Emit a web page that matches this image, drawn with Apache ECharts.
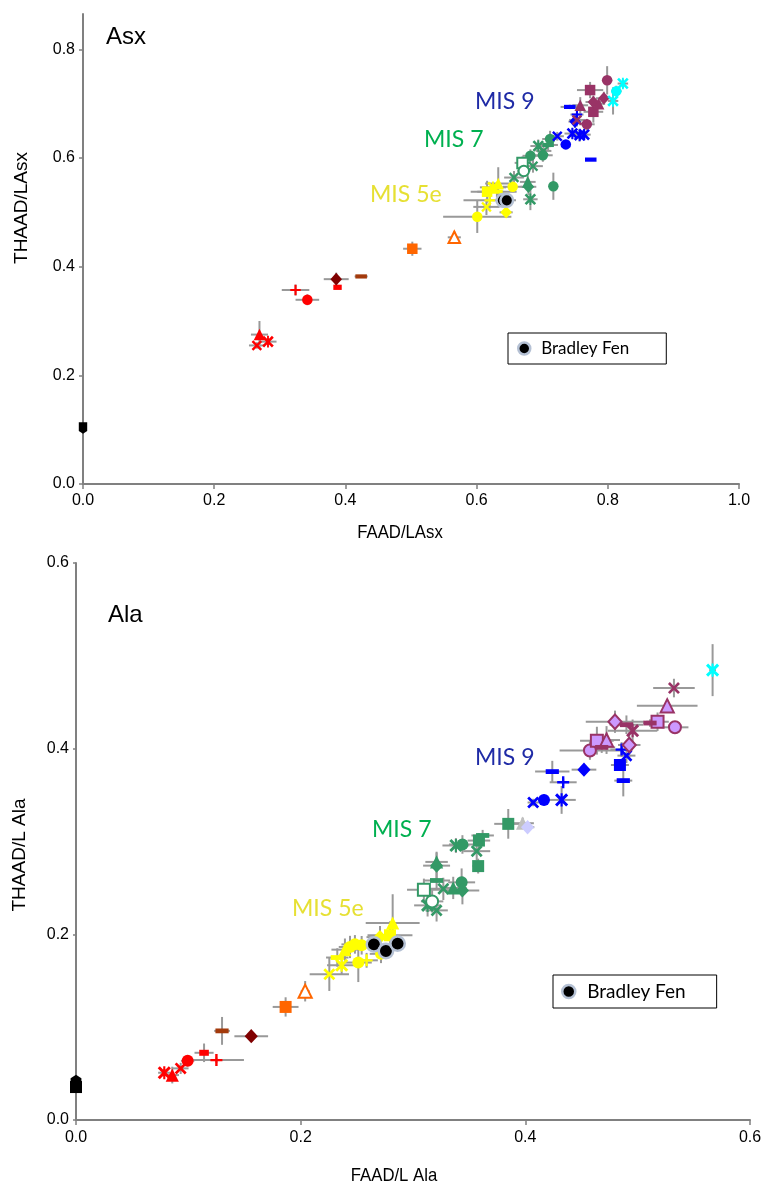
<!DOCTYPE html>
<html><head><meta charset="utf-8">
<script src="https://cdn.jsdelivr.net/npm/echarts@6/dist/echarts.min.js"></script>
<style>html,body{margin:0;padding:0;background:#fff}#c{width:766px;height:1186px}</style>
</head><body><div id="c"></div>
<script>
// ---------- DATA: [x, y, xErr, yErr] ----------
// Panel 1: Asx
const asxTicksX = [0, 0.2, 0.4, 0.6, 0.8, 1.0];
const asxTicksY = [0, 0.2, 0.4, 0.6, 0.8];
const asxBlack = [[0, 0.103, 0, 0]];
const asxBlackSym = ['pentDown'];
const asxRed = [[0.269,0.275,0.013,0.025],[0.265,0.255,0.012,0.006],[0.282,0.262,0.013,0.006],[0.324,0.357,0.021,0.010],[0.342,0.339,0.018,0.010],[0.388,0.362,0,0]];
const asxRedSym = ['triangle','x','star','plus','circle','smallRect'];
const asxDarkRed = [[0.386,0.377,0.019,0.012]];
const asxDarkRedSym = ['diamond'];
const asxBrown = [[0.424,0.382,0.010,0.002]];
const asxBrownSym = ['dash'];
const asxOrange = [[0.502,0.433,0.014,0.013]];
const asxOrangeSym = ['rect'];
const asxOrangeHollow = [[0.566,0.454,0.010,0.011]];
const asxOrangeHollowSym = ['triangle'];
const asxYellow = [[0.601,0.492,0.052,0.030],[0.615,0.510,0.020,0.015],[0.616,0.538,0.025,0.020],[0.633,0.553,0.020,0.030],[0.655,0.547,0.015,0.010],[0.645,0.500,0.010,0.010],[0.620,0.522,0.040,0.015],[0.631,0.538,0.030,0.010],[0.625,0.546,0.020,0.010]];
const asxYellowSym = ['circle','x','rect','triangle','circle','diamond','plus','dash','star'];
const asxBradley = [[0.640,0.522,0,0],[0.646,0.522,0,0]];
const asxBradleySym = ['bigCircle','bigCircle'];
const asxGreen = [[0.682,0.524,0.011,0.020],[0.679,0.547,0.012,0.015],[0.717,0.548,0.005,0.025],[0.678,0.556,0.012,0.012],[0.657,0.564,0.015,0.012],[0.686,0.585,0.015,0.012],[0.682,0.604,0.012,0.012],[0.701,0.605,0.015,0.012],[0.694,0.622,0.012,0.012],[0.712,0.635,0.012,0.015],[0.709,0.624,0.015,0.010],[0.702,0.613,0.012,0.010]];
const asxGreenSym = ['star','diamond','circle','triangle','x','x','circle','circle','star','circle','dash','x'];
const asxGreenHollow = [[0.670,0.591,0.012,0.012],[0.672,0.576,0.010,0.010]];
const asxGreenHollowSym = ['rect','circle'];
const asxBlue = [[0.723,0.640,0.010,0.008],[0.736,0.625,0.008,0.008],[0.746,0.645,0.012,0.010],[0.757,0.642,0.010,0.012],[0.764,0.643,0.010,0.010],[0.774,0.597,0.003,0.002],[0.742,0.694,0.014,0.004],[0.750,0.667,0.010,0.012],[0.753,0.680,0.010,0.012]];
const asxBlueSym = ['x','circle','star','star','star','dash','dash','diamond','plus'];
const asxMaroon = [[0.799,0.743,0.008,0.026],[0.773,0.725,0.020,0.015],[0.778,0.685,0.015,0.020],[0.778,0.703,0.012,0.012],[0.758,0.697,0.012,0.015],[0.794,0.710,0.012,0.012],[0.768,0.662,0.012,0.010],[0.753,0.670,0.012,0.012],[0.786,0.700,0.010,0.010]];
const asxMaroonSym = ['circle','rect','rect','diamond','triangle','diamond','circle','x','triangle'];
const asxCyan = [[0.823,0.737,0.008,0.008],[0.813,0.723,0.008,0.010],[0.808,0.705,0.008,0.025]];
const asxCyanSym = ['star','circle','star'];

// Panel 2: Ala
const alaTicks = [0, 0.2, 0.4, 0.6];
const alaBlack = [[0,0.0355,0,0],[0,0.0415,0,0]];
const alaBlackSym = ['rect','pentUp'];
const alaRed = [[0.0786,0.0509,0.0055,0.004],[0.0857,0.0484,0.006,0.009],[0.0932,0.0556,0.007,0.006],[0.0994,0.0638,0.006,0.006],[0.125,0.0645,0.0245,0.003],[0.114,0.0724,0.0085,0.010]];
const alaRedSym = ['star','triangle','x','circle','plus','smallRect'];
const alaDarkRed = [[0.156,0.0903,0.015,0.003]];
const alaDarkRedSym = ['diamond'];
const alaBrown = [[0.130,0.096,0.007,0.015]];
const alaBrownSym = ['dash'];
const alaOrange = [[0.1866,0.1218,0.0115,0.0104]];
const alaOrangeSym = ['rect'];
const alaOrangeHollow = [[0.204,0.1387,0.004,0.011]];
const alaOrangeHollowSym = ['triangle'];
const alaYellow = [[0.2255,0.157,0.0175,0.018],[0.2365,0.1667,0.013,0.010],[0.2513,0.1696,0.012,0.021],[0.2587,0.172,0.010,0.008],[0.2326,0.175,0.010,0.010],[0.2394,0.1835,0.012,0.012],[0.2439,0.1864,0.010,0.012],[0.2483,0.1892,0.012,0.010],[0.2543,0.1882,0.015,0.010],[0.2706,0.197,0.012,0.012],[0.2795,0.199,0.020,0.015],[0.2819,0.2122,0.024,0.031],[0.2715,0.179,0.010,0.010]];
const alaYellowSym = ['x','star','circle','plus','dash','triangle','circle','circle','circle','diamond','rect','triangle','circle'];
const alaBradley = [[0.2652,0.1892,0,0],[0.2759,0.182,0,0],[0.2863,0.190,0,0]];
const alaBradleySym = ['bigCircle','bigCircle','bigCircle'];
const alaGreen = [[0.321,0.2258,0.010,0.012],[0.313,0.2312,0.012,0.012],[0.321,0.258,0.012,0.010],[0.327,0.249,0.015,0.012],[0.3358,0.250,0.012,0.012],[0.3433,0.256,0.012,0.015],[0.344,0.2473,0.015,0.015],[0.321,0.274,0.012,0.015],[0.321,0.278,0.010,0.010],[0.3382,0.2957,0.012,0.008],[0.344,0.2968,0.012,0.010],[0.3567,0.2896,0.012,0.010],[0.358,0.2735,0.005,0.008],[0.362,0.3065,0.010,0.006],[0.3587,0.301,0.010,0.008],[0.3848,0.319,0.0125,0.016]];
const alaGreenSym = ['x','star','dash','x','triangle','circle','diamond','diamond','triangle','star','circle','x','rect','dash','rect','rect'];
const alaGreenHollow = [[0.317,0.2355,0.010,0.012],[0.3097,0.248,0.015,0.012]];
const alaGreenHollowSym = ['circle','rect'];
const alaGrey = [[0.3976,0.3197,0.010,0.006]];
const alaGreySym = ['triangle'];
const alaLavender = [[0.402,0.3154,0.006,0.004]];
const alaLavenderSym = ['diamond'];
const alaBlue = [[0.407,0.342,0.005,0.004],[0.4166,0.3448,0.005,0.006],[0.4323,0.3448,0.0126,0.015],[0.4337,0.3638,0.012,0.004],[0.424,0.3753,0.0153,0.0116],[0.4522,0.3774,0.011,0.004],[0.4842,0.3824,0.008,0.006],[0.4872,0.3656,0.008,0.017],[0.490,0.3925,0.008,0.008],[0.4857,0.399,0.010,0.008]];
const alaBlueSym = ['x','circle','star','plus','dash','diamond','rect','dash','x','plus'];
const alaMaroonLight = [[0.4575,0.398,0.027,0.010],[0.4637,0.4086,0.015,0.015],[0.4723,0.4093,0.012,0.015],[0.4798,0.429,0.026,0.012],[0.4925,0.404,0.010,0.015],[0.5177,0.429,0.010,0.010],[0.5332,0.423,0.012,0.004],[0.5263,0.4462,0.027,0.006]];
const alaMaroonLightSym = ['circle','rect','triangle','diamond','diamond','rect','circle','triangle'];
const alaMaroon = [[0.468,0.4014,0.012,0.006],[0.4955,0.4194,0.022,0.012],[0.490,0.4258,0.015,0.010],[0.511,0.4276,0.006,0.004],[0.5323,0.4653,0.0185,0.010]];
const alaMaroonSym = ['dash','star','dash','dash','x'];
const alaCyan = [[0.5667,0.4846,0.003,0.028]];
const alaCyanSym = ['star'];

// ---------- STYLES ----------
const X_PATH = 'path://M0,1.6 L1.6,0 L5,3.4 L8.4,0 L10,1.6 L6.6,5 L10,8.4 L8.4,10 L5,6.6 L1.6,10 L0,8.4 L3.4,5 Z';
const SHAPES = {
  circle: {symbol: 'circle', size: 10},
  bigCircle: {symbol: 'circle', size: 12},
  rect: {symbol: 'rect', size: 10},
  smallRect: {symbol: 'rect', size: [8, 5]},
  triangle: {symbol: 'triangle', size: 11},
  diamond: {symbol: 'diamond', size: [11, 12]},
  x: {symbol: X_PATH, size: 10},
  plus: {symbol: 'path://M4,0 H6 V4 H10 V6 H6 V10 H4 V6 H0 V4 H4 Z', size: 10},
  star: {symbol: 'path://M0,1.6 L1.6,0 L5,3.4 L8.4,0 L10,1.6 L6.6,5 L10,8.4 L8.4,10 L5,6.6 L1.6,10 L0,8.4 L3.4,5 Z M4.2,0 H5.8 V10 H4.2 Z', size: 11},
  dash: {symbol: 'rect', size: [11, 4]},
  pentDown: {symbol: 'path://M0,0 H10 V9 L5,12 L0,9 Z', size: [8, 11]},
  pentUp: {symbol: 'path://M0,3 L5,0 L10,3 V12 H0 Z', size: [9, 11]}
};
const C = {
  red: '#FF0000', darkRed: '#800000', brown: '#A33A0C', orange: '#FF6600', yellow: '#FFFF00',
  green: '#339966', blue: '#0000FF', maroon: '#993366', lightPurple: '#CC99FF', cyan: '#00FFFF',
  grey: '#C0C0C0', lavender: '#CCCCFF', err: '#999999'
};
const solid = c => ({color: c, borderWidth: 0});
const hollow = (fill, c) => ({color: fill, borderColor: c, borderWidth: 2});
const bradleyStyle = {color: '#000000', borderColor: '#B5C1D4', borderWidth: 2.5};

const panels = [
  {axis: 0, scale: 1.05, groups: [
    ['asx-black', asxBlack, asxBlackSym, solid('#000')],
    ['asx-red', asxRed, asxRedSym, solid(C.red)],
    ['asx-darkred', asxDarkRed, asxDarkRedSym, solid(C.darkRed)],
    ['asx-brown', asxBrown, asxBrownSym, solid(C.brown)],
    ['asx-orange', asxOrange, asxOrangeSym, solid(C.orange)],
    ['asx-orange-h', asxOrangeHollow, asxOrangeHollowSym, hollow('#FFFFFF', C.orange)],
    ['asx-yellow', asxYellow, asxYellowSym, solid(C.yellow)],
    ['asx-green', asxGreen, asxGreenSym, solid(C.green)],
    ['asx-green-h', asxGreenHollow, asxGreenHollowSym, hollow('#FFFFFF', C.green)],
    ['asx-blue', asxBlue, asxBlueSym, solid(C.blue)],
    ['asx-maroon', asxMaroon, asxMaroonSym, solid(C.maroon)],
    ['asx-cyan', asxCyan, asxCyanSym, solid(C.cyan)],
    ['Bradley Fen', asxBradley, asxBradleySym, bradleyStyle]
  ]},
  {axis: 1, scale: 1.2, groups: [
    ['ala-black', alaBlack, alaBlackSym, solid('#000')],
    ['ala-red', alaRed, alaRedSym, solid(C.red)],
    ['ala-darkred', alaDarkRed, alaDarkRedSym, solid(C.darkRed)],
    ['ala-brown', alaBrown, alaBrownSym, solid(C.brown)],
    ['ala-orange', alaOrange, alaOrangeSym, solid(C.orange)],
    ['ala-orange-h', alaOrangeHollow, alaOrangeHollowSym, hollow('#FFFFFF', C.orange)],
    ['ala-yellow', alaYellow, alaYellowSym, solid(C.yellow)],
    ['ala-green', alaGreen, alaGreenSym, solid(C.green)],
    ['ala-green-h', alaGreenHollow, alaGreenHollowSym, hollow('#FFFFFF', C.green)],
    ['ala-grey', alaGrey, alaGreySym, solid(C.grey)],
    ['ala-lavender', alaLavender, alaLavenderSym, solid(C.lavender)],
    ['ala-blue', alaBlue, alaBlueSym, solid(C.blue)],
    ['ala-maroon-l', alaMaroonLight, alaMaroonLightSym, hollow(C.lightPurple, C.maroon)],
    ['ala-maroon', alaMaroon, alaMaroonSym, solid(C.maroon)],
    ['ala-cyan', alaCyan, alaCyanSym, solid(C.cyan)],
    ['Bradley Fen', alaBradley, alaBradleySym, bradleyStyle]
  ]}
];

function renderErr(params, api) {
  const x = api.value(0), y = api.value(1), ex = api.value(2), ey = api.value(3);
  const c = api.coord([x, y]);
  const l = api.coord([x - ex, y]), r = api.coord([x + ex, y]);
  const t = api.coord([x, y + ey]), b = api.coord([x, y - ey]);
  const st = {stroke: C.err, lineWidth: 2};
  return {type: 'group', children: [
    {type: 'line', shape: {x1: l[0], y1: c[1], x2: r[0], y2: c[1]}, style: st},
    {type: 'line', shape: {x1: c[0], y1: t[1], x2: c[0], y2: b[1]}, style: st}
  ]};
}

const series = [];
panels.forEach(p => {
  const all = [];
  p.groups.forEach(g => g[1].forEach(v => all.push(v)));
  series.push({type: 'custom', name: 'err' + p.axis, xAxisIndex: p.axis, yAxisIndex: p.axis,
    renderItem: renderErr, data: all, encode: {x: 0, y: 1}, z: 2, silent: true, clip: false});
  p.groups.forEach(g => {
    const syms = g[2];
    series.push({
      type: 'scatter', name: g[0], xAxisIndex: p.axis, yAxisIndex: p.axis, z: 3,
      data: g[1].map(v => [v[0], v[1]]),
      symbol: (val, prm) => SHAPES[syms[prm.dataIndex]].symbol,
      symbolSize: (val, prm) => {
        const s = SHAPES[syms[prm.dataIndex]].size;
        return Array.isArray(s) ? s.map(k => k * p.scale) : s * p.scale;
      },
      itemStyle: Object.assign({opacity: 1}, g[3]),
      emphasis: {disabled: true}, clip: false
    });
  });
});

const axisLineStyle = {color: '#808080', width: 2};
const tickStyle = {color: '#808080', width: 1.5};
const labelStyle = {color: '#000', fontSize: 16, fontFamily: 'Liberation Sans, Arial, sans-serif', formatter: v => v.toFixed(1)};

const option = {
  animation: false,
  backgroundColor: '#fff',
  grid: [
    {left: 83, top: 14, width: 656, height: 470},
    {left: 76, top: 563, width: 674, height: 557}
  ],
  xAxis: [
    {gridIndex: 0, type: 'value', min: 0, max: 1, interval: 0.2,
     axisLine: {show: true, onZero: false, lineStyle: axisLineStyle},
     axisTick: {show: true, length: 5, lineStyle: tickStyle, customValues: asxTicksX},
     axisLabel: Object.assign({margin: 9, customValues: asxTicksX}, labelStyle), splitLine: {show: false}},
    {gridIndex: 1, type: 'value', min: 0, max: 0.6, interval: 0.2,
     axisLine: {show: true, onZero: false, lineStyle: axisLineStyle},
     axisTick: {show: true, length: 5, lineStyle: tickStyle, customValues: alaTicks},
     axisLabel: Object.assign({margin: 10, customValues: alaTicks}, labelStyle), splitLine: {show: false}}
  ],
  yAxis: [
    {gridIndex: 0, type: 'value', min: 0, max: 0.865,
     axisLine: {show: true, onZero: false, lineStyle: axisLineStyle},
     axisTick: {show: true, length: 4, lineStyle: tickStyle, customValues: asxTicksY},
     axisLabel: Object.assign({margin: 8, customValues: asxTicksY}, labelStyle), splitLine: {show: false}},
    {gridIndex: 1, type: 'value', min: 0, max: 0.6, interval: 0.2,
     axisLine: {show: true, onZero: false, lineStyle: axisLineStyle},
     axisTick: {show: true, length: 3, lineStyle: tickStyle, customValues: alaTicks},
     axisLabel: Object.assign({margin: 7, customValues: alaTicks}, labelStyle), splitLine: {show: false}}
  ],
  legend: [
    {data: ['Bradley Fen'], left: 508, top: 333, orient: 'horizontal', selectedMode: false,
     borderColor: '#000', borderWidth: 1, padding: [7, 37, 7, 9], itemWidth: 12, itemHeight: 12, itemGap: 5,
     icon: 'circle', itemStyle: bradleyStyle,
     textStyle: {fontFamily: 'Lato, sans-serif', fontSize: 17, color: '#000', padding: [0, 0, 0, 6]}},
    {data: ['Bradley Fen'], left: 553, top: 975, orient: 'horizontal', selectedMode: false,
     borderColor: '#000', borderWidth: 1, padding: [7, 31, 7, 8], itemWidth: 13, itemHeight: 13, itemGap: 5,
     icon: 'circle', itemStyle: bradleyStyle,
     textStyle: {fontFamily: 'Lato, sans-serif', fontSize: 19, color: '#000', padding: [0, 0, 0, 7]}}
  ],
  graphic: [
    {type: 'text', x: 106, y: 37, style: {text: 'Asx', font: '24px "Liberation Sans", Arial', fill: '#000', textVerticalAlign: 'middle'}},
    {type: 'text', x: 108, y: 615, style: {text: 'Ala', font: '24px "Liberation Sans", Arial', fill: '#000', textVerticalAlign: 'middle'}},
    {type: 'text', x: 22, y: 208, rotation: Math.PI / 2, style: {text: 'THAAD/LAsx', font: '19px "Liberation Sans", Arial', fill: '#000', textAlign: 'center', textVerticalAlign: 'middle'}},
    {type: 'text', x: 20, y: 855, rotation: Math.PI / 2, style: {text: 'THAAD/L Ala', font: '19px "Liberation Sans", Arial', fill: '#000', textAlign: 'center', textVerticalAlign: 'middle'}},
    {type: 'text', x: 400, y: 533, scaleX: 0.88, style: {text: 'FAAD/LAsx', font: '19px "Liberation Sans", Arial', fill: '#000', textAlign: 'center', textVerticalAlign: 'middle'}},
    {type: 'text', x: 394, y: 1176, scaleX: 0.88, style: {text: 'FAAD/L Ala', font: '19px "Liberation Sans", Arial', fill: '#000', textAlign: 'center', textVerticalAlign: 'middle'}},
    {type: 'text', x: 475, y: 102, style: {text: 'MIS 9', font: '23px Lato', fill: '#1F2BA6', textVerticalAlign: 'middle'}},
    {type: 'text', x: 424, y: 140, style: {text: 'MIS 7', font: '23px Lato', fill: '#00B050', textVerticalAlign: 'middle'}},
    {type: 'text', x: 370, y: 195, style: {text: 'MIS 5e', font: '23px Lato', fill: '#E6E033', textVerticalAlign: 'middle'}},
    {type: 'text', x: 475, y: 758, style: {text: 'MIS 9', font: '23px Lato', fill: '#1F2BA6', textVerticalAlign: 'middle'}},
    {type: 'text', x: 372, y: 830, style: {text: 'MIS 7', font: '23px Lato', fill: '#00B050', textVerticalAlign: 'middle'}},
    {type: 'text', x: 292, y: 909, style: {text: 'MIS 5e', font: '23px Lato', fill: '#E6E033', textVerticalAlign: 'middle'}}
  ],
  series: series
};

const chart = echarts.init(document.getElementById('c'), null, {renderer: 'canvas'});
chart.setOption(option);
</script></body></html>
